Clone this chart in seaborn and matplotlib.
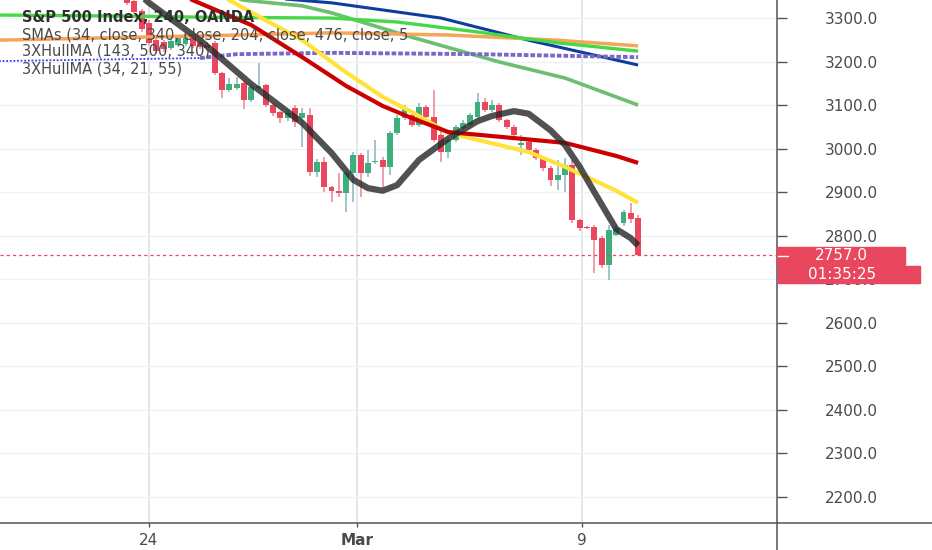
import numpy as np
import pandas as pd
import matplotlib
matplotlib.use("Agg")
import matplotlib.pyplot as plt
import seaborn as sns
from matplotlib.patches import Rectangle
from matplotlib.lines import Line2D

# ======================= DATA (4h bars, index 0 = first bar of Feb 24) =======================
bar_idx = list(range(-3, 68))
opens = [3352, 3340, 3318, 3290, 3250, 3246, 3232, 3238, 3241, 3255, 3246, 3240, 3243, 3175,
         3136, 3140, 3152, 3113, 3140, 3147, 3101, 3085, 3071, 3094, 3071, 3078, 2947, 2970,
         2913, 2903, 2899, 2945, 2986, 2945, 2970, 2975, 2959, 3037, 3071, 3078, 3055, 3096,
         3073, 3032, 2993, 3021, 3048, 3055, 3073, 3108, 3090, 3101, 3067, 3050, 3009, 3016,
         2998, 2979, 2956, 2929, 2940, 2963, 2837, 2821, 2821, 2795, 2733, 2802, 2830, 2853,
         2841]
highs = [3360, 3346, 3322, 3296, 3255, 3250, 3254, 3262, 3265, 3260, 3252, 3246, 3248, 3178,
         3163, 3165, 3156, 3150, 3197, 3150, 3105, 3088, 3090, 3100, 3094, 3094, 2976, 2981,
         2916, 2945, 2950, 2992, 2990, 2997, 3020, 2981, 3041, 3078, 3101, 3090, 3105, 3101,
         3135, 3048, 3025, 3055, 3066, 3083, 3129, 3117, 3112, 3105, 3070, 3055, 3032, 3020,
         3002, 2983, 2960, 2975, 2980, 2975, 2840, 2823, 2826, 2800, 2825, 2825, 2860, 2876,
         2848]
lows = [3330, 3310, 3270, 3238, 3220, 3224, 3228, 3234, 3236, 3232, 3229, 3226, 3170, 3117,
        3130, 3135, 3092, 3108, 3136, 3096, 3075, 3060, 3065, 3050, 3004, 2938, 2935, 2901,
        2878, 2890, 2855, 2878, 2890, 2935, 2965, 2910, 2940, 3032, 3066, 3050, 3050, 3071,
        3016, 2970, 2980, 3016, 3043, 3050, 3071, 3085, 3085, 3062, 3045, 3025, 2986, 2993,
        2975, 2950, 2915, 2905, 2900, 2830, 2812, 2817, 2715, 2726, 2699, 2800, 2823, 2830,
        2755]
closes = [3336, 3314, 3275, 3244, 3226, 3229, 3248, 3255, 3255, 3237, 3234, 3232, 3175, 3136,
          3149, 3150, 3113, 3143, 3145, 3101, 3083, 3071, 3083, 3062, 3083, 2947, 2970, 2913,
          2903, 2899, 2945, 2986, 2945, 2968, 2972, 2959, 3037, 3071, 3094, 3055, 3096, 3073,
          3021, 2993, 3021, 3050, 3060, 3078, 3108, 3090, 3101, 3067, 3050, 3032, 3014, 2998,
          2979, 2956, 2929, 2940, 2963, 2837, 2818, 2819, 2791, 2733, 2814, 2818, 2855, 2839,
          2757]

# moving averages (bar index, price)
lime_idx = [-21, 0, 7, 25, 34, 45, 56, 67]
lime_val = [3308, 3305, 3303, 3301, 3292, 3269, 3244, 3225]
orange_idx = [-21, 7, 25, 41, 56, 67]
orange_val = [3250, 3260, 3267, 3262, 3250, 3237]
hull_blue_idx = [-21, 7]
hull_blue_val = [3202, 3209]
hull_purple_idx = [7, 12, 25, 45, 67]
hull_purple_val = [3209, 3218, 3221, 3218, 3211]
navy_idx = [3, 12, 25, 40, 52, 67]
navy_val = [3385, 3354, 3336, 3301, 3250, 3193]
green_idx = [8, 13, 21, 25, 36, 48, 57, 67]
green_val = [3365, 3342, 3329, 3313, 3257, 3200, 3163, 3101]
red_idx = [2, 6, 14, 21, 27, 32, 36, 41, 50, 57, 64, 67]
red_val = [3378, 3342, 3285, 3211, 3145, 3099, 3071, 3039, 3025, 3014, 2984, 2968]
yellow_idx = [8, 11, 21, 27, 32, 36, 41, 52, 57, 64, 67]
yellow_val = [3380, 3342, 3250, 3176, 3120, 3085, 3037, 2993, 2959, 2904, 2876]
hull_idx = [-4, 0, 7, 14, 21, 25, 28, 30, 32, 34, 37, 41, 45, 47, 50, 52, 55, 57, 59, 61, 64, 66, 67]
hull_val = [3395, 3336, 3250, 3149, 3060, 2991, 2929, 2910, 2904, 2917, 2975, 3024, 3064, 3076,
            3087, 3081, 3043, 3009, 2959, 2901, 2816, 2795, 2778]

date_ticks = [0, 28.5, 59.3]
date_labels = ['24', 'Mar', '9']
price_ticks = list(range(2200, 3400, 100))

legend_lines = ["S&P 500 Index, 240, OANDA",
                "SMAs (34, close, 340, close, 204, close, 476, close, 5",
                "3XHullMA (143, 500, 340)",
                "3XHullMA (34, 21, 55)"]
countdown = "01:35:25"

# ======================= FIGURE =======================
sns.set_theme(style="white")
plt.rcParams['font.family'] = ['DejaVu Sans']

W, H = 932, 550
fig = plt.figure(figsize=(W / 100, H / 100), dpi=100)
fig.patch.set_facecolor('white')
ax = fig.add_axes([0, 27 / H, 777 / W, 523 / H])
ax.set_facecolor('white')

# candles
df = pd.DataFrame({'i': bar_idx, 'o': opens, 'h': highs, 'l': lows, 'c': closes})
up = df['c'] >= df['o']
body_col = np.where(up, '#3fae7d', '#e8475e')
wick_col = np.where(up, '#8fbcc4', '#f08c9b')
ax.vlines(df['i'], df['l'], df['h'], colors=wick_col, lw=1.2, zorder=2)
ax.bar(df['i'], (df['c'] - df['o']).abs().clip(lower=1.5), bottom=df[['o', 'c']].min(axis=1),
       width=0.8, color=body_col, linewidth=0, zorder=3)

# moving averages
def ma(idx, val, color, lw, z, **kw):
    sns.lineplot(x=idx, y=val, ax=ax, color=color, lw=lw, sort=False,
                 estimator=None, zorder=z, solid_capstyle='butt', **kw)

ma(green_idx, green_val, '#6cbf70', 2.6, 4)
ma(navy_idx, navy_val, '#0f3d9e', 2.2, 4)
ma(orange_idx, orange_val, '#f6a55a', 2.5, 4)
ma(lime_idx, lime_val, '#46d846', 2.4, 4)
ma(hull_blue_idx, hull_blue_val, '#3a3af0', 1.3, 4, linestyle=(0, (1, 1)))
ma(hull_purple_idx, hull_purple_val, '#7b68c6', 2.8, 4, linestyle=(0, (1.2, 0.5)))
ma(yellow_idx, yellow_val, '#ffe23c', 3.0, 4)
ma(red_idx, red_val, '#cc0000', 3.0, 4)
ma(hull_idx, hull_val, '#262626', 4.5, 5, alpha=0.8)

# last price line
ax.axhline(closes[-1], color='#e8475e', lw=0.9, ls=(0, (2.5, 2.5)), zorder=6)

# axes, ticks, grid
ax.set_xlim((0 - 149) / 7.3, (777 - 149) / 7.3)
ax.set_ylim(3342.5 - 2.299 * 523, 3342.5)
ax.set_yticks(price_ticks)
ax.set_yticklabels([f"{p:.1f}" for p in price_ticks])
ax.set_xticks(date_ticks)
ax.set_xticklabels(date_labels)
ax.get_xticklabels()[1].set_fontweight('bold')
ax.yaxis.tick_right()
ax.tick_params(axis='y', length=7.5, width=1, color='#555555', pad=27,
               labelsize=11, labelcolor='#4a4a4a')
ax.tick_params(axis='x', length=3, width=1, color='#555555', pad=4,
               labelsize=11, labelcolor='#4a4a4a', bottom=True)
ax.grid(axis='y', color='#eef0f3', lw=1)
ax.grid(axis='x', color='#dfe5ec', lw=1.3)
ax.set_axisbelow(True)
for s in ['top', 'left']:
    ax.spines[s].set_visible(False)
for s in ['right', 'bottom']:
    ax.spines[s].set_color('#555555')
    ax.spines[s].set_linewidth(1.1)
ax.set_xlabel('')
ax.set_ylabel('')

# axis lines continuing outside the plot area
fig.add_artist(Line2D([777 / W, 777 / W], [0, 27 / H], color='#555555', lw=1.1))
fig.add_artist(Line2D([777 / W, 1], [27 / H, 27 / H], color='#555555', lw=1.1))

# legend texts
for k, s in enumerate(legend_lines):
    fig.text(22 / W, 1 - (22 + 17 * k) / H, s, fontsize=10.5, va='baseline',
             color='#2f2f2f' if k == 0 else '#4a4a4a',
             fontweight='bold' if k == 0 else 'normal')

# price / countdown labels
fig.add_artist(Rectangle((777 / W, 1 - 265 / H), 128 / W, 18 / H, transform=fig.transFigure,
                         color='#e8475e', zorder=5))
fig.add_artist(Rectangle((778 / W, 1 - 283 / H), 142 / W, 17 / H, transform=fig.transFigure,
                         color='#e8475e', zorder=5))
fig.add_artist(Line2D([778 / W, 788 / W], [1 - 256 / H] * 2, color='white', lw=1, zorder=6))
fig.text(841 / W, 1 - 256 / H, f"{closes[-1]:.1f}", color='white', fontsize=11,
         ha='center', va='center', zorder=7)
fig.text(842 / W, 1 - 274.5 / H, countdown, color='white', fontsize=11,
         ha='center', va='center', zorder=7)

fig.savefig('out.png', dpi=100, facecolor='white')
